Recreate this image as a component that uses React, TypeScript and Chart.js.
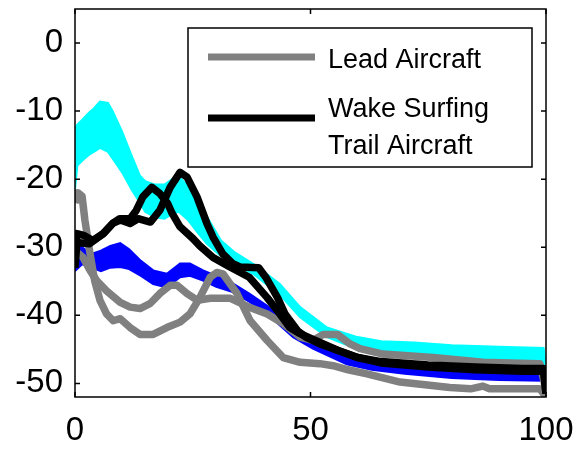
import React, { useEffect, useRef } from "react";
import { Chart, registerables } from "chart.js";

Chart.register(...registerables);

// ---------- data ----------
const xTicks = [0, 50, 100];
const yTicks = [-50, -40, -30, -20, -10, 0];

const cyanX = [0, 0.5, 1.5, 3, 4, 5.3, 7, 8, 10, 12, 13.8, 14.9, 17, 19, 21, 22, 24, 26, 28, 31, 34, 38, 43.5, 47.8, 53.5, 60, 65, 72, 80, 90, 99.5, 100];
const cyanUpper = [-12.5, -12, -11.3, -10.2, -9.6, -8.6, -8.8, -10, -13, -16.5, -19.5, -20.3, -20.8, -20.8, -19.8, -19.6, -21, -23, -25.5, -29, -30.8, -32.5, -35.4, -38.8, -41.8, -43.2, -43.8, -44, -44.4, -44.6, -44.8, -47.5];
const cyanLower = [-21.5, -18, -17.3, -16.4, -16, -15.4, -16, -17, -19, -21.5, -23.5, -24.8, -25.6, -25.8, -25, -24.8, -26, -27.8, -29.5, -31.3, -32.5, -34, -37, -40.3, -43.2, -45, -45.8, -46.2, -46.4, -46.6, -46.8, -48.5];

const blueX = [0, 1.5, 3.5, 5.5, 7.5, 9.6, 11.5, 14, 16.6, 19.5, 22.3, 24.4, 27.2, 30, 33.5, 37, 40.8, 46.3, 50.5, 57.7, 63, 70, 80, 90, 99.5, 100];
const blueUpper = [-28.5, -30, -31, -30.5, -29.8, -29.4, -30.3, -32, -33.4, -33.9, -32.4, -32.4, -33.4, -34.2, -35.3, -36.8, -38.6, -42, -43.8, -46, -46.8, -47.3, -47.8, -48.2, -48.4, -50.5];
const blueLower = [-33.5, -32.5, -33, -33.5, -33, -32.9, -33.2, -34.2, -35.4, -35.9, -34.4, -34.2, -34.9, -35.8, -36.6, -38, -39.8, -43.2, -44.9, -47.2, -48, -48.6, -49.2, -49.5, -49.6, -51.5];

const leadAX = [0, 0.6, 1.5, 2.1, 3.2, 4.2, 5.3, 6.7, 8.1, 9.6, 11.7, 13.8, 16.6, 19.5, 22.3, 24.4, 26.5, 28.7, 30.1, 31.4, 34.4, 37.2, 40.8, 44.2, 47.8, 52, 54.8, 58, 62, 69, 79.6, 84, 86.6, 88, 98.7, 100];
const leadAY = [-23.5, -22, -22.5, -26, -31, -35, -37.8, -39.8, -40.8, -40.5, -41.8, -42.8, -42.8, -41.8, -41, -39.8, -37.4, -34.4, -33.7, -33.9, -36.8, -40.8, -43.7, -46.2, -46.9, -47.1, -47.4, -48, -48.6, -49.8, -50.6, -50.8, -50.4, -50.8, -50.8, -52];

const leadBX = [0, 1.7, 3.2, 4.6, 6.7, 9.6, 11.7, 13.8, 15.9, 18, 20.2, 21.7, 23.8, 26, 28.7, 33, 37, 40.8, 44.2, 47.8, 50.5, 52.7, 55.7, 58.4, 60.5, 65.4, 76, 86.6, 98.7, 100];
const leadBY = [-30.5, -31.5, -33.4, -34.9, -36.4, -38.1, -38.8, -39, -38.3, -36.8, -35.6, -35.6, -36.8, -37.8, -37.5, -37.5, -38.8, -39.8, -41.2, -43.2, -43.7, -42.8, -42.8, -44.2, -44.9, -45.7, -46.2, -46.9, -47.1, -51];

const trailAX = [0, 0.4, 2, 3.8, 6, 8, 9.6, 11.7, 13.4, 16, 18, 20.2, 22.3, 23.8, 25.9, 28, 29.3, 31.4, 33.5, 35, 39, 40.5, 43, 44.6, 47.3, 49, 52, 56, 60, 65, 75, 85, 95, 99.5, 100];
const trailAY = [-31, -28, -28.3, -29, -28, -26.5, -26, -26.5, -25.8, -26.3, -24.6, -21.2, -19, -19.7, -22.6, -26.5, -28.5, -31, -32.4, -32.9, -33, -34.4, -37.4, -39.8, -42.3, -43.2, -44.2, -45.2, -46.2, -46.8, -47.3, -47.6, -47.8, -47.8, -51.5];

const trailBX = [0, 0.4, 3, 6, 8, 9.5, 11.7, 13, 14.4, 16.3, 18, 19.7, 20.6, 22.3, 25, 26.5, 29.3, 32.9, 37, 40.8, 43.5, 45.6, 47.8, 52, 56, 60, 65, 75, 85, 95, 99.5, 100];
const trailBY = [-33, -29.3, -29.5, -28, -26.5, -25.8, -25.8, -24.6, -22.6, -21.2, -22.1, -23.6, -25, -27, -28.7, -29.8, -31.5, -32.9, -34.4, -37.4, -39.8, -41.8, -42.7, -44, -45.2, -46.2, -47, -47.6, -48, -48.2, -48.2, -51.5];

const legendLines = [["Lead Aircraft"], ["Wake Surfing", "Trail Aircraft"]];

// ---------- styles ----------
const CYAN = "#00FFFF";
const BLUE = "#0000FF";
const GRAY = "#808080";
const BLACK = "#000000";
const FONT = "'Liberation Sans', Arial, Helvetica, sans-serif";

const pts = (xs: number[], ys: number[]) => xs.map((x, i) => ({ x, y: ys[i] }));

const framePlugin = {
  id: "matlabFrame",
  afterDatasetsDraw(chart: any) {
    const { ctx, chartArea: a, scales } = chart;
    ctx.save();
    ctx.strokeStyle = "#000";
    ctx.lineWidth = 1.5;
    ctx.strokeRect(a.left, a.top, a.right - a.left, a.bottom - a.top);
    const tl = 5;
    ctx.beginPath();
    for (const v of yTicks) {
      const y = scales.y.getPixelForValue(v);
      ctx.moveTo(a.left, y);
      ctx.lineTo(a.left + tl, y);
      ctx.moveTo(a.right, y);
      ctx.lineTo(a.right - tl, y);
    }
    for (const v of xTicks) {
      const x = scales.x.getPixelForValue(v);
      ctx.moveTo(x, a.bottom);
      ctx.lineTo(x, a.bottom - tl);
      ctx.moveTo(x, a.top);
      ctx.lineTo(x, a.top + tl);
    }
    ctx.stroke();
    ctx.restore();
  },
};

const legendPlugin = {
  id: "matlabLegend",
  afterDraw(chart: any) {
    const ctx = chart.ctx;
    ctx.save();
    const bx = 188, by = 28, bw = 344, bh = 139;
    ctx.fillStyle = "#fff";
    ctx.fillRect(bx, by, bw, bh);
    ctx.strokeStyle = "#000";
    ctx.lineWidth = 1.5;
    ctx.strokeRect(bx, by, bw, bh);
    ctx.lineCap = "butt";
    ctx.lineWidth = 7;
    ctx.strokeStyle = GRAY;
    ctx.beginPath();
    ctx.moveTo(208, 57);
    ctx.lineTo(315, 57);
    ctx.stroke();
    ctx.strokeStyle = BLACK;
    ctx.beginPath();
    ctx.moveTo(208, 118);
    ctx.lineTo(315, 118);
    ctx.stroke();
    ctx.fillStyle = "#000";
    ctx.font = `27px ${FONT}`;
    ctx.textBaseline = "alphabetic";
    ctx.textAlign = "left";
    ctx.fillText(legendLines[0][0], 328, 68);
    ctx.fillText(legendLines[1][0], 328, 117);
    ctx.fillText(legendLines[1][1], 328, 154);
    ctx.restore();
  },
};

export default function App() {
  const ref = useRef<HTMLCanvasElement | null>(null);

  useEffect(() => {
    document.body.style.margin = "0";
    document.body.style.overflow = "hidden";
    const canvas = ref.current;
    if (!canvas) return;

    const band = (lbl: string, color: string) => ({
      borderColor: color,
      backgroundColor: color,
      borderWidth: 2,
      pointRadius: 0,
      tension: 0,
      clip: 0,
      label: lbl,
    });
    const line = (lbl: string, color: string, data: any[], order: number) => ({
      label: lbl,
      data,
      borderColor: color,
      backgroundColor: color,
      borderWidth: 7.5,
      borderJoinStyle: "round",
      borderCapStyle: "butt",
      pointRadius: 0,
      tension: 0,
      fill: false,
      clip: 0,
      order,
    });

    const chart = new Chart(canvas, {
      type: "line",
      data: {
        datasets: [
          { ...band("cyanLower", CYAN), data: pts(cyanX, cyanLower), fill: false, order: 4 },
          { ...band("cyanUpper", CYAN), data: pts(cyanX, cyanUpper), fill: { target: 0 }, order: 4 },
          { ...band("blueLower", BLUE), data: pts(blueX, blueLower), fill: false, order: 3 },
          { ...band("blueUpper", BLUE), data: pts(blueX, blueUpper), fill: { target: 2 }, order: 3 },
          line("Lead Aircraft", GRAY, pts(leadAX, leadAY), 2),
          line("Lead Aircraft 2", GRAY, pts(leadBX, leadBY), 2),
          line("Wake Surfing Trail Aircraft", BLACK, pts(trailAX, trailAY), 1),
          line("Trail Aircraft 2", BLACK, pts(trailBX, trailBY), 1),
        ] as any,
      },
      options: {
        responsive: false,
        animation: false,
        events: [],
        layout: { padding: { left: 0, right: 31, top: 9, bottom: 0 } },
        plugins: {
          legend: { display: false },
          tooltip: { enabled: false },
          filler: { propagate: false },
        },
        scales: {
          x: {
            type: "linear",
            min: 0,
            max: 100,
            grid: { display: false, drawTicks: false },
            border: { display: false },
            afterBuildTicks: (s: any) => {
              s.ticks = xTicks.map((v) => ({ value: v }));
            },
            afterFit: (s: any) => {
              s.height = 53;
              s.paddingLeft = 0;
              s.paddingRight = 0;
            },
            ticks: {
              padding: 14,
              maxRotation: 0,
              autoSkip: false,
              color: "#000",
              font: { family: FONT, size: 33 },
            },
          },
          y: {
            type: "linear",
            min: -52,
            max: 5,
            grid: { display: false, drawTicks: false },
            border: { display: false },
            afterBuildTicks: (s: any) => {
              s.ticks = yTicks.map((v) => ({ value: v }));
            },
            afterFit: (s: any) => {
              s.width = 75;
              s.paddingTop = 0;
              s.paddingBottom = 0;
            },
            ticks: {
              padding: 12,
              autoSkip: false,
              color: "#000",
              font: { family: FONT, size: 33 },
            },
          },
        },
      },
      plugins: [framePlugin, legendPlugin],
    });

    return () => chart.destroy();
  }, []);

  return (
    <div style={{ width: 577, height: 450, background: "#fff" }}>
      <canvas ref={ref} width={577} height={450} style={{ display: "block" }} />
    </div>
  );
}
